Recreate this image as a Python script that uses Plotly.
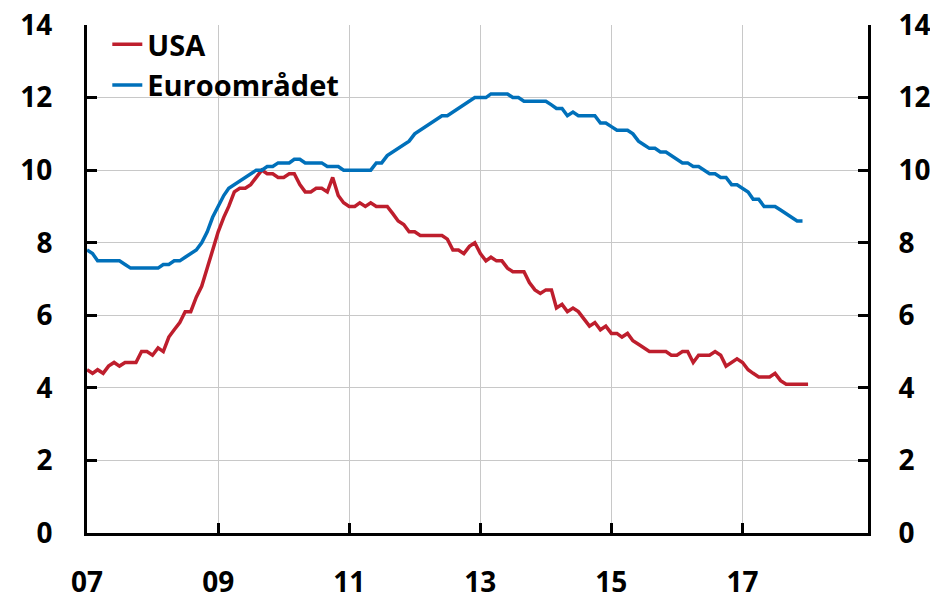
import pandas as pd
import plotly.graph_objects as go

# Monthly unemployment rate (%), first point Jan 2007
usa = [
    4.5, 4.4, 4.5, 4.4, 4.6, 4.7, 4.6, 4.7, 4.7, 4.7, 5.0,
    5.0, 4.9, 5.1, 5.0, 5.4, 5.6, 5.8, 6.1, 6.1, 6.5, 6.8, 7.3,
    7.8, 8.3, 8.7, 9.0, 9.4, 9.5, 9.5, 9.6, 9.8, 10.0, 9.9, 9.9,
    9.8, 9.8, 9.9, 9.9, 9.6, 9.4, 9.4, 9.5, 9.5, 9.4, 9.8, 9.3,
    9.1, 9.0, 9.0, 9.1, 9.0, 9.1, 9.0, 9.0, 9.0, 8.8, 8.6, 8.5,
    8.3, 8.3, 8.2, 8.2, 8.2, 8.2, 8.2, 8.1, 7.8, 7.8, 7.7, 7.9,
    8.0, 7.7, 7.5, 7.6, 7.5, 7.5, 7.3, 7.2, 7.2, 7.2, 6.9, 6.7,
    6.6, 6.7, 6.7, 6.2, 6.3, 6.1, 6.2, 6.1, 5.9, 5.7, 5.8, 5.6,
    5.7, 5.5, 5.5, 5.4, 5.5, 5.3, 5.2, 5.1, 5.0, 5.0, 5.0, 5.0,
    4.9, 4.9, 5.0, 5.0, 4.7, 4.9, 4.9, 4.9, 5.0, 4.9, 4.6, 4.7,
    4.8, 4.7, 4.5, 4.4, 4.3, 4.3, 4.3, 4.4, 4.2, 4.1, 4.1, 4.1,
    4.1, 4.1,
]
euro = [
    7.8, 7.7, 7.5, 7.5, 7.5, 7.5, 7.5, 7.4, 7.3, 7.3, 7.3, 7.3,
    7.3, 7.3, 7.4, 7.4, 7.5, 7.5, 7.6, 7.7, 7.8, 8.0, 8.3, 8.7,
    9.0, 9.3, 9.5, 9.6, 9.7, 9.8, 9.9, 10.0, 10.0, 10.1, 10.1, 10.2,
    10.2, 10.2, 10.3, 10.3, 10.2, 10.2, 10.2, 10.2, 10.1, 10.1, 10.1, 10.0,
    10.0, 10.0, 10.0, 10.0, 10.0, 10.2, 10.2, 10.4, 10.5, 10.6, 10.7, 10.8,
    11.0, 11.1, 11.2, 11.3, 11.4, 11.5, 11.5, 11.6, 11.7, 11.8, 11.9, 12.0,
    12.0, 12.0, 12.1, 12.1, 12.1, 12.1, 12.0, 12.0, 11.9, 11.9, 11.9, 11.9,
    11.9, 11.8, 11.7, 11.7, 11.5, 11.6, 11.5, 11.5, 11.5, 11.5, 11.3, 11.3,
    11.2, 11.1, 11.1, 11.1, 11.0, 10.8, 10.7, 10.6, 10.6, 10.5, 10.5, 10.4,
    10.3, 10.2, 10.2, 10.1, 10.1, 10.0, 9.9, 9.9, 9.8, 9.8, 9.6, 9.6,
    9.5, 9.4, 9.2, 9.2, 9.0, 9.0, 9.0, 8.9, 8.8, 8.7, 8.6, 8.6,
]
series_names = ["USA", "Euroområdet"]
x_tick_years = [2007, 2009, 2011, 2013, 2015, 2017]
x_tick_labels = ["07", "09", "11", "13", "15", "17"]
y_ticks = [0, 2, 4, 6, 8, 10, 12, 14]

usa_dates = pd.date_range("2007-01-01", periods=len(usa), freq="MS")
euro_dates = pd.date_range("2007-01-01", periods=len(euro), freq="MS")
tickvals = [pd.Timestamp(f"{y}-01-01") for y in x_tick_years]

FONT = "Open Sans"
fig = go.Figure()
fig.add_trace(go.Scatter(x=usa_dates, y=usa, name=series_names[0], mode="lines",
                         line=dict(color="#BE1E2D", width=3.5)))
fig.add_trace(go.Scatter(x=euro_dates, y=euro, name=series_names[1], mode="lines",
                         line=dict(color="#0070BA", width=3.5), yaxis="y2"))

axis_font = dict(family=FONT, size=28, color="black", weight=700)
fig.update_layout(
    width=930, height=587,
    margin=dict(l=79, r=70, t=16, b=62),
    paper_bgcolor="white", plot_bgcolor="white",
    showlegend=True,
    legend=dict(x=0.026, y=1.01, xanchor="left", yanchor="top",
                font=dict(family=FONT, size=29, color="black", weight=700),
                bgcolor="rgba(0,0,0,0)", itemwidth=30, tracegroupgap=0),
    xaxis=dict(type="date", range=[pd.Timestamp("2007-01-01"), pd.Timestamp("2018-12-01")],
               tickmode="array", tickvals=tickvals, ticktext=x_tick_labels,
               ticks="inside", ticklen=10, tickwidth=3, tickcolor="black",
               showline=True, linewidth=3, linecolor="black",
               showgrid=True, gridcolor="#C8C8C8", gridwidth=1, automargin=False,
               ticklabeloverflow="allow",
               tickfont=axis_font, ticklabelstandoff=22, zeroline=False),
    yaxis=dict(range=[0, 14], tickvals=y_ticks, automargin=False,
               ticklabeloverflow="allow",
               ticks="inside", ticklen=10, tickwidth=3, tickcolor="black",
               showline=True, linewidth=3, linecolor="black",
               showgrid=True, gridcolor="#C8C8C8", gridwidth=1,
               tickfont=axis_font, ticklabelstandoff=26, zeroline=False),
    yaxis2=dict(range=[0, 14], tickvals=y_ticks, overlaying="y", side="right",
                automargin=False, ticklabeloverflow="allow",
                ticks="inside", ticklen=10, tickwidth=3, tickcolor="black",
                showline=True, linewidth=3, linecolor="black",
                showgrid=False, tickfont=axis_font, ticklabelstandoff=22, zeroline=False),
)
fig.write_html("out.html")
